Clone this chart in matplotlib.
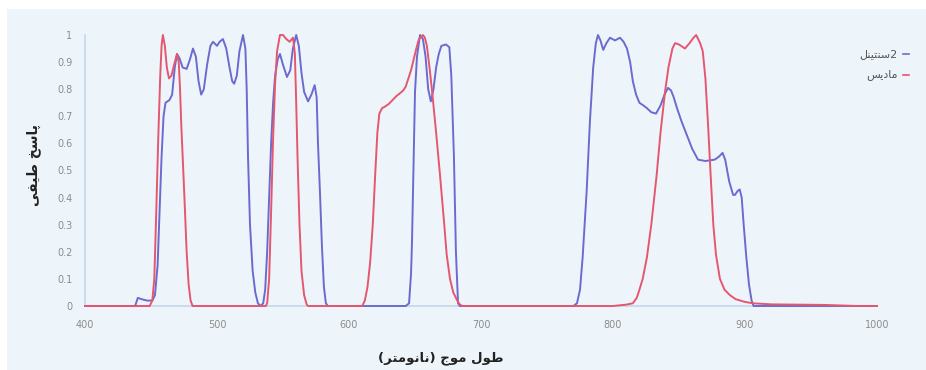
import matplotlib.pyplot as plt
from matplotlib.patches import Rectangle
from matplotlib.lines import Line2D

# Sentinel-2 spectral response (blue)
s2_nm = [400, 438, 440, 443, 447, 451, 453, 455, 456.5, 458, 459.5, 461, 464, 466, 468, 469.7,
         471.5, 474, 477, 479.5, 481.8, 484, 486, 488, 490, 492.5, 495, 497, 500, 502, 504.5,
         507, 509.5, 511.5, 513, 515, 517, 519.7, 521.5, 522.5, 523.5, 525, 527, 529, 531, 533,
         535, 536.5, 538, 539.5, 541, 542.5, 544, 546, 547.7, 550, 553, 555.5, 557.5, 560, 562,
         564, 566, 569, 571.5, 574, 575.5, 576.5, 578, 579.5, 581, 582.5, 584,
         643, 645.5, 647, 647.7, 649, 650, 651.5, 653.8, 656, 658, 660, 662, 664, 666, 668, 670,
         673.5, 676, 677.5, 679.5, 681, 682.6, 684,
         770, 772.7, 775, 777, 780, 782.5, 785, 787, 788.6, 790.5, 792.6, 795, 797.7, 801.5,
         805.3, 808, 810.6, 813, 815, 817.5, 820, 823, 825.7, 829, 832.6, 836, 839, 841.7, 844,
         846, 848.5, 852, 856, 860, 864.4, 870, 877, 880, 883, 885, 888, 891, 892.4, 894.5, 896,
         897.5, 899, 901, 903, 905, 906.5, 1000]
s2_val = [0, 0, 0.03, 0.025, 0.02, 0.02, 0.04, 0.15, 0.35, 0.55, 0.70, 0.75, 0.76, 0.78, 0.88, 0.93,
          0.915, 0.88, 0.875, 0.91, 0.95, 0.92, 0.83, 0.78, 0.80, 0.89, 0.96, 0.975, 0.96, 0.975, 0.985,
          0.95, 0.88, 0.83, 0.82, 0.85, 0.94, 1.0, 0.95, 0.80, 0.55, 0.30, 0.13, 0.05, 0.01, 0,
          0.01, 0.06, 0.20, 0.40, 0.60, 0.75, 0.85, 0.91, 0.93, 0.89, 0.845, 0.87, 0.95, 1.0, 0.96,
          0.86, 0.79, 0.755, 0.78, 0.815, 0.77, 0.60, 0.42, 0.22, 0.07, 0.01, 0,
          0, 0.01, 0.12, 0.23, 0.55, 0.79, 0.92, 1.0, 0.985, 0.92, 0.80, 0.755, 0.80, 0.88, 0.93, 0.96,
          0.965, 0.955, 0.85, 0.55, 0.20, 0.01, 0,
          0, 0.01, 0.06, 0.18, 0.42, 0.68, 0.88, 0.97, 1.0, 0.98, 0.945, 0.97, 0.99, 0.98,
          0.99, 0.975, 0.95, 0.90, 0.83, 0.78, 0.75, 0.74, 0.73, 0.715, 0.71, 0.74, 0.78, 0.805, 0.795,
          0.77, 0.73, 0.68, 0.63, 0.58, 0.54, 0.535, 0.54, 0.55, 0.565, 0.54, 0.46, 0.41, 0.41, 0.425, 0.43,
          0.40, 0.30, 0.18, 0.08, 0.02, 0, 0]

# MODIS spectral response (red)
modis_nm = [400, 449, 451, 452.5, 454, 455.5, 457, 458, 459, 460.5, 462, 463.6, 465.5, 467.5, 469.7,
            471, 472, 473, 474, 475.5, 477, 478.5, 480, 481.5,
            537, 538, 539.5, 541, 542.5, 544, 545.5, 547.7, 550, 552.5, 555, 557.6, 559, 560, 561,
            562.5, 564, 566, 568, 569,
            610, 612, 614, 616, 618, 620, 621.5, 623, 625, 627, 630, 633, 636, 638.6, 641, 643, 645,
            647, 648.5, 651, 653, 656, 657.5, 659, 661, 663, 666, 669, 672, 674, 676.5, 679, 682, 684, 686,
            800, 810, 815, 818, 820, 822.5, 825.7, 829, 833, 836, 839.4, 842, 845, 847, 850, 854.5,
            858, 861, 863, 866, 868, 870, 872, 874, 876, 878, 881, 884.5, 888.6, 893, 900, 906, 920,
            960, 985, 1000]
modis_val = [0, 0, 0.02, 0.10, 0.35, 0.62, 0.85, 0.96, 1.0, 0.96, 0.88, 0.84, 0.85, 0.89, 0.93,
             0.90, 0.80, 0.66, 0.55, 0.38, 0.20, 0.08, 0.02, 0,
             0, 0.01, 0.10, 0.35, 0.62, 0.82, 0.94, 1.0, 1.0, 0.985, 0.975, 0.99, 0.93, 0.75, 0.55,
             0.30, 0.13, 0.04, 0.005, 0,
             0, 0.02, 0.07, 0.16, 0.30, 0.50, 0.64, 0.71, 0.73, 0.735, 0.745, 0.76, 0.775, 0.785, 0.795, 0.81, 0.84,
             0.87, 0.90, 0.95, 0.985, 1.0, 0.99, 0.96, 0.88, 0.79, 0.64, 0.48, 0.31, 0.19, 0.10, 0.05, 0.02, 0.005, 0,
             0, 0.005, 0.01, 0.03, 0.06, 0.10, 0.18, 0.30, 0.48, 0.64, 0.79, 0.88, 0.95, 0.97, 0.965, 0.95,
             0.97, 0.99, 1.0, 0.97, 0.94, 0.84, 0.67, 0.48, 0.30, 0.19, 0.10, 0.06, 0.04, 0.025, 0.015, 0.01, 0.006,
             0.004, 0, 0]

x_ticks = [400, 500, 600, 700, 800, 900, 1000]
y_ticks = [0, 0.1, 0.2, 0.3, 0.4, 0.5, 0.6, 0.7, 0.8, 0.9, 1]
y_tick_labels = ['0', '0.1', '0.2', '0.3', '0.4', '0.5', '0.6', '0.7', '0.8', '0.9', '1']

# Persian labels, pre-shaped (presentation forms, visual order)
ylabel_txt = '\uFBFD\uFED4\uFBFF\uFEC3 \uFEA6\uFEB3\uFE8E\uFB58'            # پاسخ طیفی
xlabel_txt = ('(\uFEAE\uFE98\uFEE3\uFEEE\uFEE7\uFE8E\uFEE7) '
              '\uFE9D\uFEEE\uFEE3 \uFEDD\uFEEE\uFEC3')                     # طول موج (نانومتر)
s2_name = '\uFEDE\uFEE8\uFBFF\uFE98\uFEE8\uFEB3' + '2'                      # سنتینل2
modis_name = '\uFEB2\uFBFE\uFEA9\uFE8E\uFEE3'                               # مادیس

blue = '#6b6bcf'
red = '#e5576f'
bg = '#eef5fa'
axis_col = '#c3d6ea'

fig = plt.figure(figsize=(9.26, 3.70), dpi=100)
fig.patch.set_facecolor('white')
fig.patches.append(Rectangle((7 / 926, 0), 1, 1 - 9 / 370, transform=fig.transFigure,
                             facecolor=bg, edgecolor='none', zorder=-10))

ax = fig.add_axes([85 / 926, 1 - 306 / 370, (877 - 85) / 926, (306 - 35) / 370])
ax.set_facecolor('none')

ax.plot(s2_nm, s2_val, color=blue, lw=1.4, clip_on=False, zorder=3)
ax.plot(modis_nm, modis_val, color=red, lw=1.4, clip_on=False, zorder=3)

ax.set_xlim(400, 1000)
ax.set_ylim(0, 1)
ax.set_xticks(x_ticks)
ax.set_yticks(y_ticks)
ax.set_yticklabels(y_tick_labels)
ax.tick_params(length=0, labelsize=7, labelcolor='#8c8c8c')
ax.tick_params(axis='x', pad=10)
ax.tick_params(axis='y', pad=9)

for s in ['top', 'right']:
    ax.spines[s].set_visible(False)
ax.spines['left'].set_color(axis_col)
ax.spines['bottom'].set_color(axis_col)
ax.spines['left'].set_linewidth(1.2)
ax.spines['bottom'].set_linewidth(1.2)

fig.text(34 / 926, 1 - 165 / 370, ylabel_txt, rotation=90, ha='center', va='center',
         fontsize=10, fontweight='bold', color='#222222', family=['DejaVu Sans'])
fig.text(441 / 926, 1 - 358 / 370, xlabel_txt, ha='center', va='center',
         fontsize=9.5, fontweight='bold', color='#222222', family=['DejaVu Sans'])

# legend on the right, key to the right of the text
for name, col, yy in [(s2_name, blue, 54), (modis_name, red, 75)]:
    fig.text(898 / 926, 1 - yy / 370, name, ha='right', va='center', fontsize=8,
             color='#555555', family=['DejaVu Sans'])
    fig.add_artist(Line2D([903 / 926, 909 / 926], [1 - yy / 370, 1 - yy / 370],
                          transform=fig.transFigure, color=col, lw=1.2))

fig.savefig('out.png', dpi=100, facecolor=fig.get_facecolor())
